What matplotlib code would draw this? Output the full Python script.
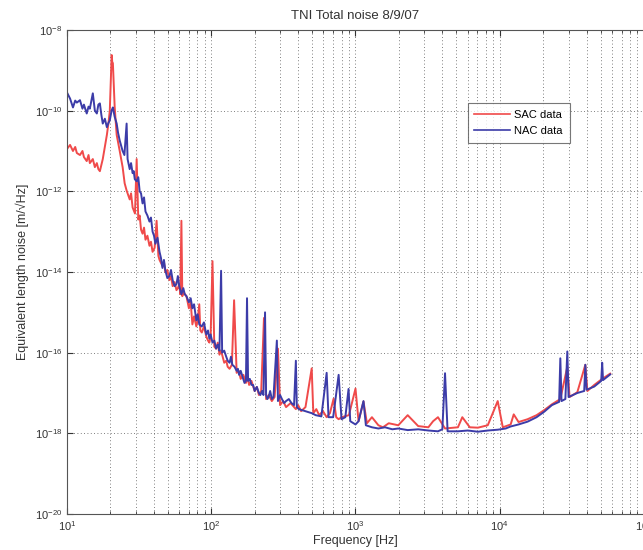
import numpy as np
import matplotlib
matplotlib.use("Agg")
import matplotlib.pyplot as plt
from matplotlib.ticker import LogLocator, NullLocator, NullFormatter

plt.rcParams['font.family'] = ['Liberation Sans', 'DejaVu Sans']

title = "TNI Total noise 8/9/07"
xlabel = "Frequency [Hz]"
ylabel = "Equivalent length noise [m/\u221aHz]"
series_names = ["SAC data", "NAC data"]

# SAC data: frequency [Hz] and log10 of noise amplitude
sac_f = [10, 10.5, 11, 11.4, 11.7, 12.3, 12.8, 13.1, 13.7, 14.1,
         14.4, 15.1, 15.6, 16.1, 16.5, 16.9, 17.3, 17.7, 18.3, 18.9,
         19.4, 19.8, 20.1, 20.4, 20.6, 20.8, 21.1, 21.4, 22.1, 23.2,
         24.3, 25.1, 25.9, 27.2, 27.8, 28.5, 29.6, 30.4, 31.2, 31.9,
         32.6, 33.4, 34.2, 35, 36.1, 37.3, 38.2, 39.2, 40.5, 41.8,
         43, 43.8, 45.9, 47, 48, 49.6, 51.3, 52.6, 54, 55.7,
         57.4, 58.7, 60, 61, 62.1, 63, 64, 67.3, 70, 72,
         74, 76, 78.8, 80.5, 82.6, 84, 86, 89, 92.4, 95,
         97, 99, 102, 105, 108, 111, 114, 117, 120, 123,
         127, 130, 134, 139, 144, 150, 155, 160, 167, 174,
         178, 183, 190, 200, 207, 214, 222, 232, 240, 250,
         263, 275, 290, 300, 315, 330, 355, 386, 400, 420,
         450, 497, 510, 535, 560, 595, 631, 665, 705, 735,
         764, 800, 900, 1000, 1050, 1136, 1200, 1300, 1441, 1550,
         1700, 1980, 2300, 2720, 3200, 3450, 3730, 4175, 5130, 5500,
         6200, 7050, 8260, 9680, 10500, 11900, 12500, 13500, 15600, 18000,
         20400, 23000, 26300, 28000, 29400, 30500, 34500, 39200, 40500, 45200,
         51300, 58300]
sac_log = [-10.95, -10.85, -11.00, -10.90, -11.05, -11.10, -11.00, -11.15, -11.25, -11.10,
           -11.30, -11.20, -11.40, -11.30, -11.45, -11.50, -11.35, -11.20, -10.90, -10.60,
           -10.30, -10.00, -9.30, -8.62, -8.80, -8.82, -9.40, -9.90, -10.60, -11.00,
           -11.40, -11.80, -11.98, -12.20, -12.05, -12.40, -12.55, -11.20, -12.70, -12.60,
           -12.95, -13.05, -12.90, -13.20, -13.10, -13.35, -13.25, -13.50, -13.40, -12.73,
           -13.60, -13.70, -13.85, -13.75, -14.00, -13.95, -14.20, -14.10, -14.35, -14.25,
           -14.45, -14.40, -14.30, -14.55, -12.73, -14.60, -14.50, -14.60, -14.90, -14.75,
           -15.30, -15.10, -15.35, -15.20, -14.80, -15.45, -15.50, -15.35, -15.60, -15.70,
           -15.75, -15.60, -13.73, -15.85, -15.90, -15.75, -16.05, -15.95, -16.10, -16.25,
           -16.20, -16.35, -16.40, -16.30, -14.70, -16.50, -16.45, -16.65, -16.55, -16.75,
           -16.60, -16.80, -16.70, -16.95, -16.85, -17.05, -16.95, -15.14, -17.15, -17.05,
           -17.20, -17.10, -15.90, -17.30, -17.20, -17.35, -17.25, -17.40, -17.30, -17.45,
           -17.35, -16.39, -17.50, -17.40, -17.55, -17.45, -17.60, -17.50, -17.14, -17.60,
           -17.65, -17.60, -17.55, -16.89, -17.70, -17.21, -17.75, -17.60, -17.80, -17.85,
           -17.75, -17.80, -17.55, -17.82, -17.85, -17.70, -17.60, -17.88, -17.85, -17.60,
           -17.85, -17.86, -17.80, -17.20, -17.85, -17.78, -17.53, -17.72, -17.65, -17.55,
           -17.42, -17.28, -17.15, -16.70, -16.35, -17.10, -16.98, -16.30, -16.95, -16.80,
           -16.65, -16.52]

# NAC data: frequency [Hz] and log10 of noise amplitude
nac_f = [10, 10.5, 11, 11.4, 11.7, 12.3, 12.8, 13.1, 13.7, 14.1,
         14.4, 15.1, 15.6, 16.1, 16.5, 16.9, 17.3, 17.7, 18.3, 18.9,
         19.4, 19.8, 20.4, 20.8, 21.4, 22.1, 22.6, 23.2, 24.3, 25.0,
         25.9, 26.3, 27.2, 27.8, 28.5, 29.0, 29.5, 30.4, 31.2, 31.9,
         32.6, 33.4, 34.2, 35, 36.1, 37.3, 38.2, 39.2, 40.1, 41,
         42.4, 43.8, 44.8, 45.9, 47, 48, 49.6, 51.3, 52.6, 54,
         55.7, 57.4, 58.7, 60, 61, 62.1, 64, 65.5, 67.3, 70,
         72, 74, 76, 78.8, 80.5, 82.6, 86, 89, 92.4, 95,
         97, 99, 102, 105, 108, 111, 114, 117, 119, 123,
         127, 130, 134, 137, 140, 145, 150, 153, 156, 160,
         165, 170, 174, 177, 180, 185, 190, 195, 200, 207,
         214, 219, 225, 230, 236, 240, 245, 250, 256, 263,
         270, 285, 290, 300, 309, 320, 330, 345, 360, 375,
         386, 392, 405, 450, 497, 530, 580, 631, 650, 700,
         764, 800, 850, 895, 920, 1000, 1050, 1136, 1180, 1300,
         1441, 1600, 1800, 1980, 2300, 2720, 3200, 3730, 4000, 4175,
         4350, 5130, 6000, 7050, 8260, 9680, 11000, 11900, 13500, 15600,
         18000, 20400, 23000, 25800, 26300, 26800, 28500, 29400, 30000, 34500,
         38500, 39200, 40000, 45200, 50500, 51300, 52000, 58300]
nac_log = [-9.55, -9.70, -9.92, -9.75, -9.80, -9.74, -9.95, -9.85, -10.07, -9.90,
           -9.95, -9.57, -10.00, -10.07, -9.85, -9.82, -10.10, -10.32, -10.20, -10.41,
           -10.30, -10.24, -9.99, -9.92, -10.15, -10.32, -10.55, -10.74, -11.00, -11.10,
           -10.32, -11.20, -11.45, -11.30, -11.55, -11.50, -11.70, -11.75, -11.65, -12.00,
           -12.05, -12.30, -12.15, -12.50, -12.60, -12.75, -12.65, -13.00, -13.10, -13.30,
           -13.15, -13.50, -13.65, -13.90, -13.70, -13.95, -14.15, -14.10, -13.95, -14.20,
           -14.35, -14.30, -14.10, -14.35, -14.45, -14.55, -14.40, -14.55, -14.60, -14.75,
           -14.65, -14.90, -14.80, -15.20, -15.05, -15.30, -15.35, -15.25, -15.55, -15.45,
           -15.65, -15.55, -15.75, -15.70, -15.90, -15.80, -15.95, -13.97, -16.00, -15.95,
           -16.10, -16.20, -16.25, -16.10, -16.30, -16.35, -16.45, -16.40, -16.55, -16.45,
           -16.60, -16.75, -16.70, -14.65, -16.70, -16.65, -16.80, -16.80, -16.95, -16.85,
           -17.00, -17.05, -16.95, -17.05, -15.00, -17.05, -17.15, -17.10, -16.95, -17.15,
           -17.10, -15.70, -17.20, -17.05, -17.15, -17.25, -17.20, -17.15, -17.25, -17.30,
           -16.20, -17.35, -17.40, -17.45, -17.50, -17.55, -17.58, -16.50, -17.60, -17.60,
           -16.55, -17.65, -17.60, -16.90, -17.70, -17.78, -17.70, -17.20, -17.80, -17.85,
           -17.88, -17.85, -17.90, -17.88, -17.92, -17.90, -17.93, -17.95, -17.90, -16.51,
           -17.95, -17.95, -17.93, -17.96, -17.93, -17.91, -17.88, -17.83, -17.78, -17.71,
           -17.60, -17.46, -17.30, -17.22, -16.14, -17.20, -17.15, -15.97, -17.10, -17.00,
           -16.95, -16.30, -16.92, -16.84, -16.70, -16.25, -16.68, -16.54]

y_ticks = [1e-20, 1e-18, 1e-16, 1e-14, 1e-12, 1e-10, 1e-8]
x_ticks = [1e1, 1e2, 1e3, 1e4, 1e5]

fig = plt.figure(figsize=(6.43, 5.5), dpi=100)
ax = fig.add_axes([67/643, 36/550, 577/643, 484/550])

ax.plot(sac_f, 10**np.array(sac_log), color='#f04a4a', lw=1.4, label=series_names[0])
ax.plot(nac_f, 10**np.array(nac_log), color='#3c3ca8', lw=1.4, label=series_names[1])

ax.set_xscale('log')
ax.set_yscale('log')
ax.set_xlim(1e1, 1e5)
ax.set_ylim(1e-20, 1e-8)
ax.set_xticks(x_ticks)
ax.xaxis.set_minor_locator(LogLocator(base=10, subs=np.arange(2, 10)))
ax.xaxis.set_minor_formatter(NullFormatter())
ax.set_yticks(y_ticks)
ax.yaxis.set_minor_locator(NullLocator())

grid_kw = dict(color='#555555', linestyle=(0, (1, 3)), linewidth=0.6)
ax.grid(True, which='major', axis='both', **grid_kw)
ax.grid(True, which='minor', axis='x', **grid_kw)

ax.tick_params(axis='both', which='both', direction='in', labelsize=8, colors='#333333',
               top=True, right=False)
ax.tick_params(which='major', length=4)
ax.tick_params(which='minor', length=2)
for s in ['left', 'bottom', 'top']:
    ax.spines[s].set_color('#555555')
    ax.spines[s].set_linewidth(0.8)
ax.spines['right'].set_visible(False)

ax.set_title(title, fontsize=9.5, color='#333333', pad=8)
ax.set_xlabel(xlabel, fontsize=9, color='#333333', labelpad=2)
ax.set_ylabel(ylabel, fontsize=9, color='#333333', labelpad=4)

leg = ax.legend(loc='upper left', bbox_to_anchor=(0.685, 0.86), fontsize=8,
                handlelength=3.2, frameon=True, fancybox=False, borderpad=0.6,
                labelspacing=0.55, handletextpad=0.4)
leg.get_frame().set_edgecolor('#555555')
leg.get_frame().set_linewidth(0.8)
for line in leg.get_lines():
    line.set_linewidth(1.2)

fig.savefig('out.png', dpi=100)
